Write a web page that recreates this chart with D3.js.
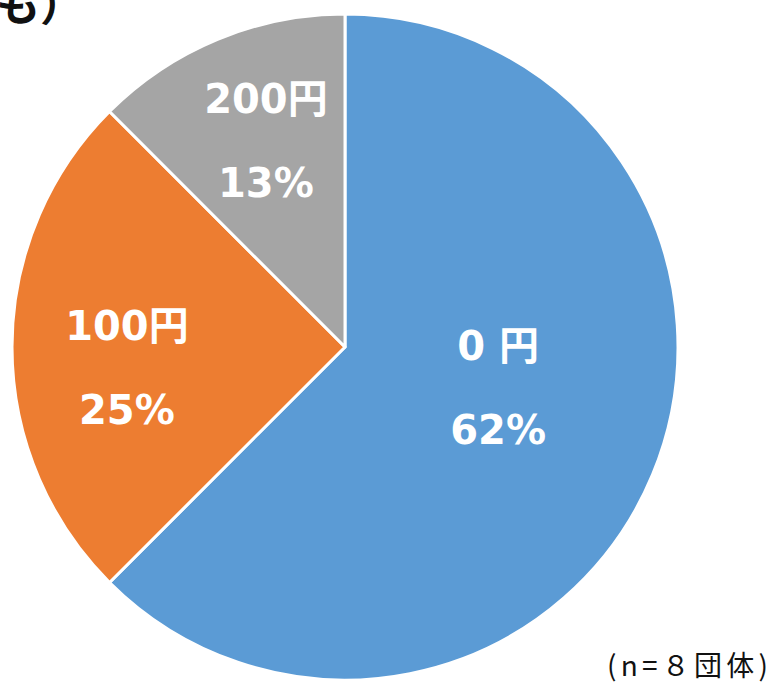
<!DOCTYPE html>
<html>
<head>
<meta charset="utf-8">
<script src="https://cdn.jsdelivr.net/npm/d3@7"></script>
<style>
  body { margin: 0; background: #fff; }
  svg { display: block; }
  text { font-family: "Noto Sans CJK JP", "Noto Sans", sans-serif; }
  .lbl text { font-family: "DejaVu Sans", "Noto Sans CJK JP", sans-serif; }
</style>
</head>
<body>
<svg id="chart" width="771" height="684"></svg>
<script>
// data
const categories = ['0 円', '100円', '200円'];
const counts = [5, 2, 1];
const pctLabels = ['62%', '25%', '13%'];
const colors = ['#5B9BD5', '#ED7D31', '#A5A5A5'];
// label placement, excel style (fraction of radius + small nudge)
const labelRadius = [0.475, 0.655, 0.66];
const labelNudge = [[7, -20], [0, 21], [5, -3]];

const width = 771, height = 684;
const cx = 345, cy = 347, radius = 333;

const svg = d3.select('#chart');

// cropped title at the top
svg.append('text')
  .attr('x', -4).attr('y', 21)
  .attr('font-size', 44).attr('font-weight', 'bold')
  .attr('fill', '#111')
  .text('も）');

const g = svg.append('g').attr('transform', `translate(${cx},${cy})`);

const pie = d3.pie().sort(null).value(d => d)(counts);
const arc = d3.arc().innerRadius(0).outerRadius(radius);

g.selectAll('path.slice').data(pie).enter().append('path')
  .attr('class', 'slice')
  .attr('d', arc)
  .attr('fill', (d, i) => colors[i])
  .attr('stroke', '#fff')
  .attr('stroke-width', 3)
  .attr('stroke-linejoin', 'round');

const labels = g.selectAll('g.lbl').data(pie).enter().append('g')
  .attr('class', 'lbl')
  .attr('transform', (d, i) => {
    const r = radius * labelRadius[i];
    const c = d3.arc().innerRadius(r).outerRadius(r).centroid(d);
    return `translate(${c[0] + labelNudge[i][0]},${c[1] + labelNudge[i][1]})`;
  });

labels.append('text')
  .attr('text-anchor', 'middle')
  .attr('y', -28)
  .attr('font-size', 40).attr('font-weight', 'bold').attr('fill', '#fff')
  .text((d, i) => categories[i]);

labels.append('text')
  .attr('text-anchor', 'middle')
  .attr('y', 56)
  .attr('font-size', 40).attr('font-weight', 'bold').attr('fill', '#fff')
  .text((d, i) => pctLabels[i]);

// sample size note
svg.append('text')
  .attr('x', 607).attr('y', 676)
  .attr('font-size', 28).attr('fill', '#111')
  .attr('textLength', 161).attr('lengthAdjust', 'spacing')
  .text('(n=８団体)');
</script>
</body>
</html>
